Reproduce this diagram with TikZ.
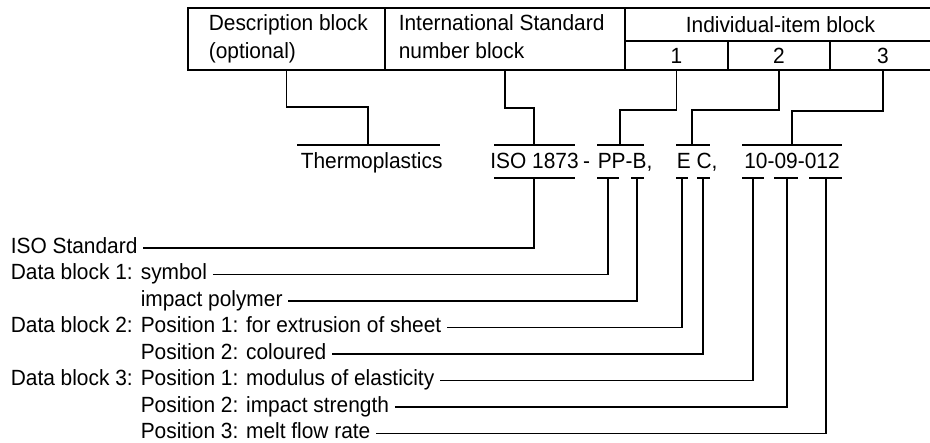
\documentclass[tikz,border=0pt]{standalone}
\usepackage{fontspec}
\setmainfont{Liberation Sans}[FakeStretch=0.95]
\begin{document}
\begin{tikzpicture}[x=1pt,y=-1pt,line width=1.6pt,
  font=\fontsize{22}{26}\selectfont,
  box/.style={draw,inner sep=0pt},
  txt/.style={inner sep=0pt,text height=13pt,text depth=2pt},
  lbl/.style={txt,anchor=west,inner xsep=5pt}]
\useasboundingbox (0,0) rectangle (930,443);
% heading blocks
\node[box,minimum width=197pt,minimum height=62pt] (desc) at (286.5,39) {};
\node[box,minimum width=240pt,minimum height=62pt] (isoblk) at (505,39) {};
\node[box,minimum width=311pt,minimum height=33pt] (ind) at (780.5,24.5) {Individual-item block};
\node[box,minimum width=103pt,minimum height=29pt] (c1) at (676.5,55.5) {1};
\node[box,minimum width=102pt,minimum height=29pt] (c2) at (779,55.5) {2};
\node[box,minimum width=106pt,minimum height=29pt] (c3) at (883,55.5) {3};
\node[txt,anchor=west] (desca) at (208,25) {Description block};
\node[txt,anchor=west] (descb) at (208,53) {(optional)};
\node[txt,anchor=west] (isoa) at (398,25) {International Standard};
\node[txt,anchor=west] (isob) at (398,53) {number block};
% designation
\node[txt,anchor=west] (thermo) at (300,163) {Thermoplastics};
\node[txt] (isono) at (534.5,163) {ISO 1873};
\node[txt] (dash) at (586.5,163) {-};
\node[txt,anchor=west] (ppb) at (597,163) {PP-B,};
\node[txt,anchor=west] (ec) at (676,163) {E C,};
\node[txt] (num) at (792,163) {10-09-012};
\foreach \xa/\xb in {297/440,494/575,597/644,676/710,742/842}
  \draw (\xa,145) -- (\xb,145);
\foreach \xa/\xb in {494/575,597/619,631/644,676/688,697/710,742/764,774/798,809/842}
  \draw (\xa,178) -- (\xb,178);
\coordinate (kdesc) at (368,107);
\coordinate (jdesc) at (368,145);
\coordinate (kiso) at (534,108);
\coordinate (jiso) at (534,145);
\coordinate (kpp) at (620,110);
\coordinate (jpp) at (620,145);
\coordinate (kec) at (692,110);
\coordinate (jec) at (692,145);
\coordinate (knum) at (792,111);
\coordinate (jnum) at (792,145);
\draw (desc.south) |- (kdesc) -- (jdesc);
\draw (isoblk.south) |- (kiso) -- (jiso);
\draw (c1.south) |- (kpp) -- (jpp);
\draw (c2.south) |- (kec) -- (jec);
\draw (c3.south) |- (knum) -- (jnum);
% explanations
\coordinate (liso) at (534,178);
\coordinate (lpp) at (608,178);
\coordinate (lb) at (637,178);
\coordinate (le) at (682,178);
\coordinate (lc) at (703,178);
\coordinate (lten) at (753,178);
\coordinate (lnine) at (787,178);
\coordinate (ltwelve) at (826,178);
\node[lbl] (isostd) at (5,248) {ISO Standard};
\node[lbl] (dbone) at (5,274.5) {Data block 1:};
\node[lbl] (symbol) at (135,274.5) {symbol};
\node[lbl] (impact) at (135,301) {impact polymer};
\node[lbl] (dbtwo) at (5,327.5) {Data block 2:};
\node[lbl] (extr) at (135,327.5) {Position 1: for extrusion of sheet};
\node[lbl] (colour) at (135,354) {Position 2: coloured};
\node[lbl] (dbthree) at (5,380.5) {Data block 3:};
\node[lbl] (modul) at (135,380.5) {Position 1: modulus of elasticity};
\node[lbl] (strength) at (135,407) {Position 2: impact strength};
\node[lbl] (flow) at (135,433.5) {Position 3: melt flow rate};
\draw (isostd.east) -| (liso);
\draw (symbol.east) -| (lpp);
\draw (impact.east) -| (lb);
\draw (extr.east) -| (le);
\draw (colour.east) -| (lc);
\draw (modul.east) -| (lten);
\draw (strength.east) -| (lnine);
\draw (flow.east) -| (ltwelve);
\end{tikzpicture}
\end{document}
